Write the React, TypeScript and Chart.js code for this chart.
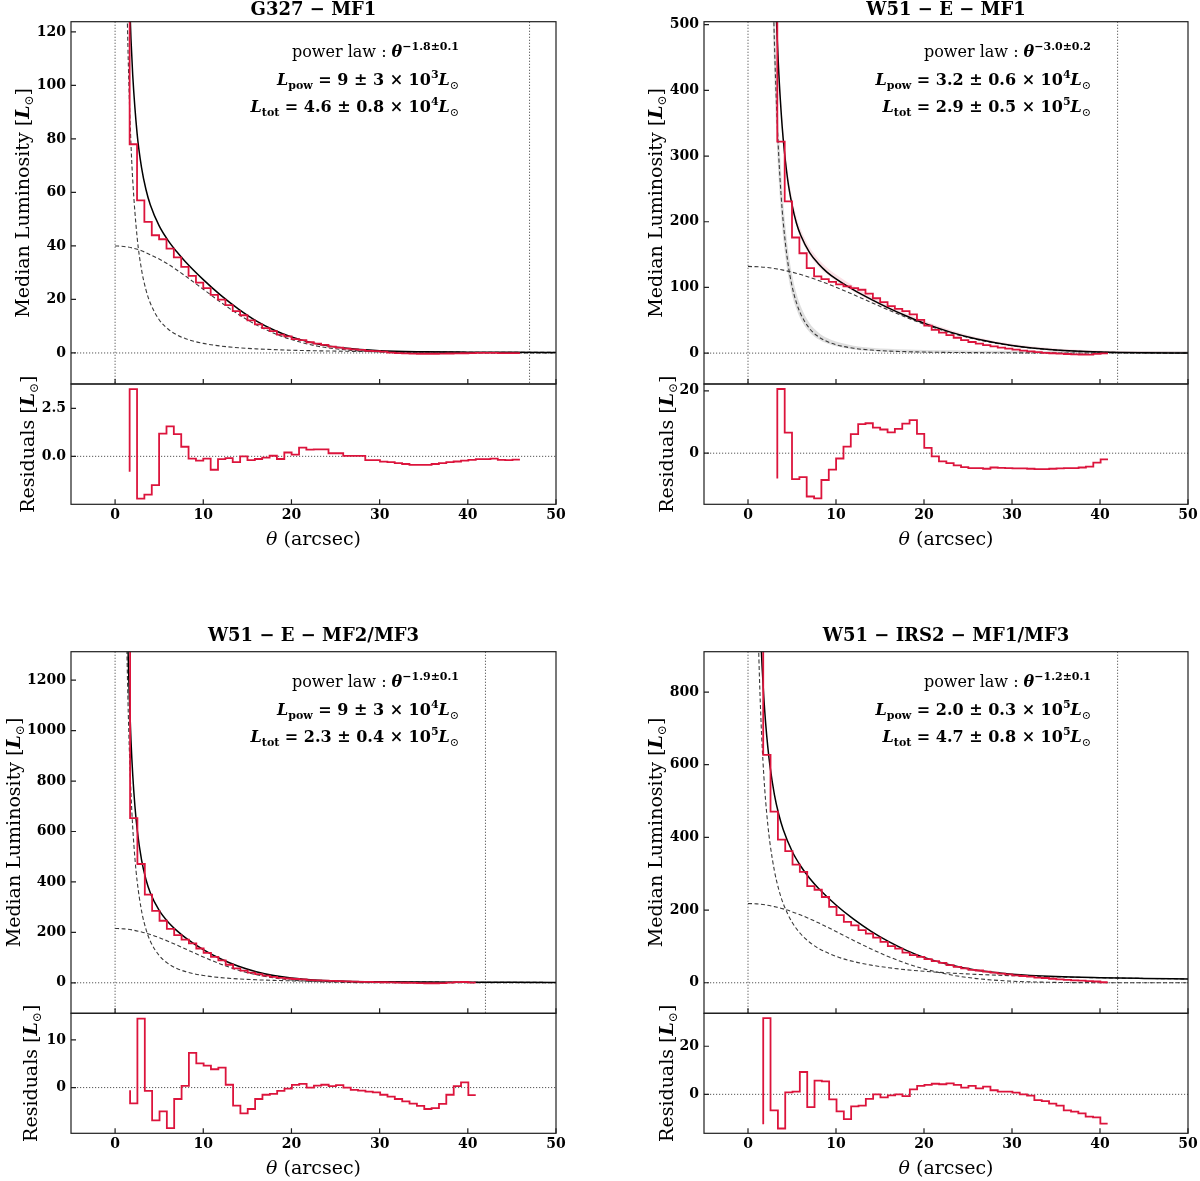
import React, { useEffect, useRef } from 'react';
import { Chart, registerables } from 'chart.js';

Chart.register(...registerables);

const SERIF = '"DejaVu Serif", "Liberation Serif", serif';
const RED = '#dc143c';

// ---------- shared axis data ----------
const X_MIN = -5;
const X_MAX = 50;
const X_TICKS = [0, 10, 20, 30, 40, 50];
const X_TICK_LABELS = ['0', '10', '20', '30', '40', '50'];

// ---------- Panel 1 : G327 - MF1 ----------
const p1Title = 'G327 − MF1';
const p1Edges = [1.65, 2.49, 3.32, 4.16, 4.99, 5.83, 6.66, 7.50, 8.33, 9.17, 10.00, 10.84, 11.67, 12.51, 13.34, 14.18, 15.01, 15.85, 16.68, 17.52, 18.35, 19.19, 20.02, 20.86, 21.69, 22.53, 23.36, 24.20, 25.03, 25.87, 26.70, 27.54, 28.37, 29.21, 30.04, 30.88, 31.71, 32.55, 33.38, 34.22, 35.05, 35.89, 36.72, 37.56, 38.39, 39.23, 40.06, 40.90, 41.73, 42.57, 43.40, 44.24, 45.07, 45.91];
const p1Lum = [200, 78, 57, 49, 44, 42.5, 39, 35.7, 32.2, 28.8, 26.3, 24.2, 21.7, 19.95, 17.9, 15.6, 14.1, 12.2, 10.7, 9.3, 8.16, 6.84, 6.18, 5.19, 4.78, 4.01, 3.47, 2.99, 2.38, 2.03, 1.62, 1.37, 1.18, 0.8, 0.66, 0.48, 0.1, -0.05, -0.15, -0.25, -0.3, -0.3, -0.3, -0.25, -0.2, -0.15, -0.1, -0.05, 0, 0, 0, -0.05, -0.05, -0.05];
const p1Res = [-0.8, 3.5, -2.2, -2.0, -1.5, 1.18, 1.56, 1.16, 0.5, -0.12, -0.22, -0.12, -0.7, -0.15, -0.09, -0.3, 0.0, -0.2, -0.14, -0.07, 0.03, -0.14, 0.2, 0.09, 0.45, 0.35, 0.36, 0.36, 0.16, 0.16, 0.02, 0.02, 0.02, -0.2, -0.2, -0.28, -0.3, -0.35, -0.4, -0.45, -0.45, -0.45, -0.4, -0.35, -0.3, -0.27, -0.22, -0.18, -0.15, -0.15, -0.12, -0.18, -0.2, -0.17];
const p1CurveX = [1.2, 1.4, 1.6, 1.8, 2.0, 2.5, 3, 3.5, 4, 5, 6, 7, 8, 10, 12, 14, 16, 18, 20, 23, 26, 30, 35, 40, 45, 50];
const p1Pow = [162, 122.8, 96.6, 78.1, 64.6, 43.2, 31.1, 23.6, 18.6, 12.4, 8.94, 6.78, 5.33, 3.57, 2.57, 1.95, 1.53, 1.24, 1.02, 0.8, 0.64, 0.49, 0.37, 0.29, 0.24, 0.2];
const p1Tot = [201.7, 162.4, 136.1, 117.4, 103.8, 81.9, 69.3, 61.1, 55.3, 47.5, 42.1, 37.8, 34.0, 27.4, 21.5, 16.4, 12.0, 8.6, 6.0, 3.3, 1.84, 0.86, 0.44, 0.3, 0.24, 0.2];
const p1GaussX = [0, 1, 2, 3, 4, 5, 6, 7, 8, 10, 12, 14, 16, 18, 20, 23, 26, 30, 35, 40, 50];
const p1Gauss = [40, 39.8, 39.2, 38.2, 36.7, 35.1, 33.2, 31.0, 28.7, 23.8, 18.9, 14.4, 10.5, 7.4, 5.0, 2.5, 1.2, 0.37, 0.07, 0.01, 0];
const p1YRange = [-11.6, 123.8];
const p1YTicks = [0, 20, 40, 60, 80, 100, 120];
const p1YLabels = ['0', '20', '40', '60', '80', '100', '120'];
const p1ResRange = [-2.5, 3.77];
const p1ResTicks = [0, 2.5];
const p1ResLabels = ['0.0', '2.5'];
const p1VLines = [0, 47];
const p1Ann = ['−1.8±0.1', '9 ± 3', '3', '4.6 ± 0.8', '4'];

// ---------- Panel 2 : W51 - E - MF1 ----------
const p2Title = 'W51 − E − MF1';
const p2Edges = [3.33, 4.17, 5.00, 5.84, 6.67, 7.51, 8.34, 9.18, 10.01, 10.85, 11.68, 12.52, 13.35, 14.19, 15.02, 15.86, 16.69, 17.53, 18.36, 19.20, 20.03, 20.87, 21.70, 22.54, 23.37, 24.21, 25.04, 25.88, 26.71, 27.55, 28.38, 29.22, 30.05, 30.89, 31.72, 32.56, 33.39, 34.23, 35.06, 35.90, 36.73, 37.57, 38.40, 39.24, 40.07, 40.91];
const p2Lum = [700, 322, 231, 176, 152, 129.5, 116.7, 112.7, 108.5, 104.5, 101.5, 99, 96.5, 90.5, 83.5, 77.5, 71.5, 67.5, 63.9, 59, 50.5, 42, 35.5, 31.3, 27.3, 23.4, 19.9, 16.9, 14.5, 12.1, 10.4, 8.5, 6.8, 5.2, 3.9, 2.6, 1.4, 0.5, -0.2, -0.8, -1.3, -1.8, -2.1, -2.2, -1.2, -0.5];
const p2Res = [-8.1, 20.6, 6.6, -8.3, -7.7, -13.9, -14.5, -8.6, -5.3, -1.7, 2.1, 6.1, 9.3, 9.6, 8.2, 7.6, 6.7, 7.8, 9.5, 10.6, 6.2, 1.7, -1.0, -2.6, -3.2, -3.9, -4.5, -4.8, -4.8, -5.0, -4.6, -4.7, -4.8, -4.9, -4.9, -5.0, -5.1, -5.1, -5.0, -4.9, -4.8, -4.8, -4.6, -4.3, -3.0, -2.0];
const p2CurveX = [2.8, 3.0, 3.25, 3.5, 3.75, 4, 4.5, 5, 5.5, 6, 7, 8, 9, 10, 12, 14, 16, 18, 20, 23, 26, 30, 35, 40, 45, 50];
const p2Pow = [583, 474, 372.9, 298.5, 242.7, 200, 140.5, 102.4, 76.9, 59.3, 37.3, 25, 17.6, 12.8, 7.4, 4.66, 3.1, 2.2, 1.6, 1.05, 0.73, 0.47, 0.3, 0.2, 0.14, 0.1];
const p2Tot = [712, 603, 501, 426, 370, 326, 265, 226, 198, 179, 153, 136, 123, 113, 96.3, 81.8, 68.5, 56.5, 45.6, 32, 21.4, 11.7, 4.9, 1.84, 0.65, 0.24];
const p2PowHi = [668, 543, 428, 343, 280, 231, 163, 120, 91, 71, 45.5, 31.5, 23, 17.6, 11.4, 8.3, 6.5, 5.5, 4.8, 4.2, 3.8, 3.5, 3.3, 3.2, 3.2, 3.1];
const p2PowLo = [512, 416, 327, 262, 213, 175, 123, 89, 67, 51, 31.8, 21, 14.5, 10.3, 5.5, 3.1, 1.7, 0.9, 0.4, 0, 0, 0, 0, 0, 0, 0];
const p2TotHi = [742.5, 629, 523, 445, 387, 341, 278, 237, 208, 188, 161, 143.4, 130, 119.5, 102, 87, 73.2, 60.8, 49.4, 35.3, 24.3, 14.2, 7.1, 3.9, 2.7, 2.2];
const p2TotLo = [697, 590, 490, 416, 362, 318, 259, 220, 193, 174, 149, 132, 119.5, 109.7, 93.4, 79.2, 66.1, 54.4, 43.7, 30.4, 20, 10.5, 3.8, 0.8, 0, 0];
const p2GaussX = [0, 2, 4, 6, 8, 10, 12, 14, 16, 18, 20, 23, 26, 30, 35, 40, 45, 50];
const p2Gauss = [132, 130.6, 126.3, 119.6, 110.7, 100.4, 88.9, 77.1, 65.4, 54.3, 44.0, 30.9, 20.7, 11.2, 4.58, 1.64, 0.51, 0.14];
const p2YRange = [-47, 504.5];
const p2YTicks = [0, 100, 200, 300, 400, 500];
const p2YLabels = ['0', '100', '200', '300', '400', '500'];
const p2ResRange = [-16.4, 22.2];
const p2ResTicks = [0, 20];
const p2ResLabels = ['0', '20'];
const p2VLines = [0, 42];
const p2Ann = ['−3.0±0.2', '3.2 ± 0.6', '4', '2.9 ± 0.5', '5'];

// ---------- Panel 3 : W51 - E - MF2/MF3 ----------
const p3Title = 'W51 − E − MF2/MF3';
const p3Edges = [1.70, 2.53, 3.37, 4.20, 5.04, 5.87, 6.70, 7.54, 8.37, 9.21, 10.04, 10.87, 11.71, 12.54, 13.38, 14.21, 15.04, 15.88, 16.71, 17.55, 18.38, 19.21, 20.05, 20.88, 21.72, 22.55, 23.38, 24.22, 25.05, 25.89, 26.72, 27.55, 28.39, 29.22, 30.06, 30.89, 31.72, 32.56, 33.39, 34.23, 35.06, 35.89, 36.73, 37.56, 38.40, 39.23, 40.06, 40.90];
const p3Lum = [1500, 653, 471, 350, 285, 246, 214, 189, 171, 156, 136, 119, 103, 88.5, 71.5, 57.5, 48, 40.3, 34.2, 28.6, 23.6, 19.7, 17, 15, 13.2, 10.6, 9.5, 8.4, 7.2, 6.5, 5.4, 4.5, 3.9, 3.3, 2.8, 2.1, 1.45, 0.74, 0.08, -0.52, -1.2, -1.9, -1.85, -1.05, 0.75, 2.46, 3.18, 0.4];
const p3Res = [-0.55, -3.3, 14.5, -0.7, -6.9, -5.0, -8.5, -2.4, 0.35, 7.3, 5.1, 4.6, 3.85, 4.2, 0.6, -3.8, -5.4, -4.5, -2.4, -1.5, -1.3, -0.7, -0.2, 0.55, 0.8, 0.0, 0.4, 0.6, 0.3, 0.5, 0.0, -0.5, -0.65, -0.85, -1.0, -1.5, -1.9, -2.4, -2.9, -3.35, -3.85, -4.5, -4.3, -3.4, -1.5, 0.3, 1.1, -1.6];
const p3CurveX = [1.3, 1.4, 1.5, 1.6, 1.8, 2.0, 2.25, 2.5, 3, 3.5, 4, 5, 6, 7, 8, 10, 12, 14, 16, 18, 20, 23, 26, 30, 35, 40, 45, 50];
const p3Pow = [1397, 1214, 1064, 942, 753, 616, 492.7, 403.3, 285.3, 212.8, 165.1, 108.1, 76.4, 57.0, 44.2, 29.0, 20.5, 15.3, 11.9, 9.48, 7.76, 5.95, 4.71, 3.59, 2.68, 2.08, 1.66, 1.36];
const p3Tot = [1610, 1426, 1276, 1153, 963, 825, 700, 609, 487, 409.5, 356.4, 287.1, 241.3, 206.9, 178.2, 131.4, 94.4, 65.4, 44.0, 28.8, 18.8, 10.2, 6.1, 3.9, 2.7, 2.1, 1.7, 1.4];
const p3GaussX = [0, 1, 2, 3, 4, 5, 6, 7, 8, 10, 12, 14, 16, 18, 20, 23, 26, 30, 35, 40, 50];
const p3Gauss = [215.5, 213.9, 209.2, 201.6, 191.3, 179.0, 164.9, 149.9, 134.0, 102.4, 73.9, 50.1, 32.1, 19.3, 11.0, 4.22, 1.41, 0.27, 0.02, 0, 0];
const p3YRange = [-121, 1313];
const p3YTicks = [0, 200, 400, 600, 800, 1000, 1200];
const p3YLabels = ['0', '200', '400', '600', '800', '1000', '1200'];
const p3ResRange = [-9.6, 15.6];
const p3ResTicks = [0, 10];
const p3ResLabels = ['0', '10'];
const p3VLines = [0, 42];
const p3Ann = ['−1.9±0.1', '9 ± 3', '4', '2.3 ± 0.4', '5'];

// ---------- Panel 4 : W51 - IRS2 - MF1/MF3 ----------
const p4Title = 'W51 − IRS2 − MF1/MF3';
const p4Edges = [1.73, 2.56, 3.40, 4.23, 5.06, 5.89, 6.73, 7.56, 8.39, 9.22, 10.06, 10.89, 11.72, 12.56, 13.39, 14.22, 15.05, 15.89, 16.72, 17.55, 18.39, 19.22, 20.05, 20.88, 21.72, 22.55, 23.38, 24.22, 25.05, 25.88, 26.71, 27.55, 28.38, 29.21, 30.05, 30.88, 31.71, 32.54, 33.38, 34.21, 35.04, 35.88, 36.71, 37.54, 38.37, 39.21, 40.04, 40.87];
const p4Lum = [1000, 627, 471, 394, 362, 325, 305, 266, 256, 236, 209, 186, 167.5, 158, 145, 135, 124, 112.6, 100.7, 94, 83, 76, 71, 65, 59.5, 55, 48.5, 44, 39.4, 35.7, 33.8, 30.8, 27.8, 25.3, 22.9, 20.5, 18.7, 17, 14.2, 13.1, 11.1, 9.5, 7.8, 6.8, 5.8, 4.4, 3.5, 1.5];
const p4Res = [-12.4, 31.7, -6.7, -14.2, 0.8, 1.1, 9.3, -5.3, 5.7, 5.4, -2.1, -7.1, -10.3, -5.0, -4.7, -1.9, 0, -1.25, -0.4, 0, -0.7, 2.1, 3.5, 3.9, 4.4, 4.2, 4.6, 3.9, 2.8, 3.5, 2.5, 3.2, 1.7, 1.1, 1.1, 0.7, 0, -0.5, -2.4, -2.8, -3.9, -4.7, -6.7, -7.2, -7.9, -9.3, -9.6, -12.2];
const p4CurveX = [1.2, 1.3, 1.4, 1.5, 1.6, 1.8, 2.0, 2.25, 2.5, 3, 3.5, 4, 5, 6, 7, 8, 10, 12, 14, 16, 18, 20, 23, 26, 30, 35, 40, 45, 50];
const p4Pow = [925.6, 840.9, 769.3, 708.2, 655.4, 569, 501.4, 435.4, 383.6, 308.3, 256.2, 218.3, 167.0, 134.2, 111.5, 95.0, 72.7, 58.4, 48.5, 41.35, 35.9, 31.6, 26.75, 23.1, 19.45, 16.17, 13.77, 11.96, 10.54];
const p4Tot = [1142, 1057, 985, 924, 871, 784, 716, 649, 596, 518, 463, 422, 362.5, 320.6, 287.6, 260, 213.9, 174.9, 141.4, 113, 89.2, 69.9, 48.7, 34.6, 23.8, 17.2, 14.0, 12.0, 10.5];
const p4GaussX = [0, 1, 2, 3, 4, 5, 6, 7, 8, 10, 12, 14, 16, 18, 20, 23, 26, 30, 35, 40, 45, 50];
const p4Gauss = [218, 217.1, 214.2, 209.6, 203.3, 195.5, 186.4, 176.1, 165.0, 141.2, 116.5, 92.9, 71.6, 53.3, 38.3, 21.9, 11.5, 4.36, 1.06, 0.21, 0.03, 0];
const p4YRange = [-84, 911];
const p4YTicks = [0, 200, 400, 600, 800];
const p4YLabels = ['0', '200', '400', '600', '800'];
const p4ResRange = [-16.2, 33.7];
const p4ResTicks = [0, 20];
const p4ResLabels = ['0', '20'];
const p4VLines = [0, 42];
const p4Ann = ['−1.2±0.1', '2.0 ± 0.3', '5', '4.7 ± 0.8', '5'];

// ---------- assembled panel definitions ----------
type Panel = {
  title: string; edges: number[]; lum: number[]; res: number[];
  curveX: number[]; pow: number[]; tot: number[]; gaussX: number[]; gauss: number[];
  band?: { powHi: number[]; powLo: number[]; totHi: number[]; totLo: number[] };
  yRange: number[]; yTicks: number[]; yLabels: string[];
  resRange: number[]; resTicks: number[]; resLabels: string[];
  vlines: number[]; ann: string[]; labX: number[];
};

const PANELS: Panel[] = [
  { title: p1Title, edges: p1Edges, lum: p1Lum, res: p1Res, curveX: p1CurveX, pow: p1Pow, tot: p1Tot, gaussX: p1GaussX, gauss: p1Gauss, yRange: p1YRange, yTicks: p1YTicks, yLabels: p1YLabels, resRange: p1ResRange, resTicks: p1ResTicks, resLabels: p1ResLabels, vlines: p1VLines, ann: p1Ann, labX: [22, 27] },
  { title: p2Title, edges: p2Edges, lum: p2Lum, res: p2Res, curveX: p2CurveX, pow: p2Pow, tot: p2Tot, gaussX: p2GaussX, gauss: p2Gauss, band: { powHi: p2PowHi, powLo: p2PowLo, totHi: p2TotHi, totLo: p2TotLo }, yRange: p2YRange, yTicks: p2YTicks, yLabels: p2YLabels, resRange: p2ResRange, resTicks: p2ResTicks, resLabels: p2ResLabels, vlines: p2VLines, ann: p2Ann, labX: [55, 66] },
  { title: p3Title, edges: p3Edges, lum: p3Lum, res: p3Res, curveX: p3CurveX, pow: p3Pow, tot: p3Tot, gaussX: p3GaussX, gauss: p3Gauss, yRange: p3YRange, yTicks: p3YTicks, yLabels: p3YLabels, resRange: p3ResRange, resTicks: p3ResTicks, resLabels: p3ResLabels, vlines: p3VLines, ann: p3Ann, labX: [13, 30] },
  { title: p4Title, edges: p4Edges, lum: p4Lum, res: p4Res, curveX: p4CurveX, pow: p4Pow, tot: p4Tot, gaussX: p4GaussX, gauss: p4Gauss, yRange: p4YRange, yTicks: p4YTicks, yLabels: p4YLabels, resRange: p4ResRange, resTicks: p4ResTicks, resLabels: p4ResLabels, vlines: p4VLines, ann: p4Ann, labX: [55, 66] },
];

// ---------- layout ----------
const COL = [
  { x0: 0, yAxisW: 71, padR: 44 },
  { x0: 600, yAxisW: 104, padR: 12 },
];
const ROW = [
  { mainTop: 0, mainH: 386, titlePadT: 0, titlePadB: 0.1, mainPadB: 2, resTop: 352, resH: 208, resPadT: 32, resXH: 55.7 },
  { mainTop: 620, mainH: 395, titlePadT: 5.9, titlePadB: 4.2, mainPadB: 1.7, resTop: 981, resH: 200, resPadT: 32.3, resXH: 47.7 },
];

// ---------- drawing helpers ----------
type Seg = { t: string; f: string; dy?: number };
const fnt = (size: number, style = '', weight = '') => `${style} ${weight} ${size}px ${SERIF}`.trim();

function drawRich(ctx: CanvasRenderingContext2D, segs: Seg[], x: number, y: number, align: 'left' | 'right' | 'center') {
  let w = 0;
  for (const s of segs) { ctx.font = s.f; w += ctx.measureText(s.t).width; }
  let cx = align === 'right' ? x - w : align === 'center' ? x - w / 2 : x;
  ctx.textAlign = 'left';
  ctx.textBaseline = 'alphabetic';
  for (const s of segs) {
    ctx.font = s.f;
    ctx.fillText(s.t, cx, y + (s.dy || 0));
    cx += ctx.measureText(s.t).width;
  }
}

function refLines(chart: any, vlines: number[]) {
  const { ctx, chartArea: a, scales } = chart;
  ctx.save();
  ctx.beginPath();
  ctx.rect(a.left, a.top, a.right - a.left, a.bottom - a.top);
  ctx.clip();
  ctx.strokeStyle = '#444';
  ctx.lineWidth = 0.9;
  ctx.setLineDash([1.2, 1.8]);
  ctx.beginPath();
  const y0 = scales.y.getPixelForValue(0);
  ctx.moveTo(a.left, y0);
  ctx.lineTo(a.right, y0);
  for (const v of vlines) {
    const px = scales.x.getPixelForValue(v);
    ctx.moveTo(px, a.top);
    ctx.lineTo(px, a.bottom);
  }
  ctx.stroke();
  ctx.restore();
}

function frameAndTicks(chart: any, yTicks: number[]) {
  const { ctx, chartArea: a, scales } = chart;
  ctx.save();
  ctx.setLineDash([]);
  ctx.strokeStyle = '#1e1e1e';
  ctx.lineWidth = 1.2;
  ctx.strokeRect(a.left, a.top, a.right - a.left, a.bottom - a.top);
  ctx.beginPath();
  for (const v of X_TICKS) {
    const px = scales.x.getPixelForValue(v);
    ctx.moveTo(px, a.bottom);
    ctx.lineTo(px, a.bottom - 5);
  }
  for (const v of yTicks) {
    const py = scales.y.getPixelForValue(v);
    ctx.moveTo(a.left, py);
    ctx.lineTo(a.left + 5, py);
  }
  ctx.stroke();
  ctx.restore();
}

function yTitle(ctx: CanvasRenderingContext2D, word: string, cx: number, cy: number) {
  ctx.save();
  ctx.fillStyle = '#000';
  ctx.translate(cx, cy);
  ctx.rotate(-Math.PI / 2);
  drawRich(ctx, [
    { t: word + ' [', f: fnt(19) },
    { t: 'L', f: fnt(19, 'italic', 'bold') },
    { t: '⊙', f: fnt(12), dy: 4 },
    { t: ']', f: fnt(19) },
  ], 0, 6.6, 'center');
  ctx.restore();
}

const pts = (xs: number[], ys: number[]) => xs.map((x, i) => ({ x, y: ys[i] }));

const dashed = { borderColor: '#3a3a3a', borderWidth: 1.1, borderDash: [4, 2.5], cubicInterpolationMode: 'monotone', order: 2 };
const clear = 'rgba(0,0,0,0)';
const TICK_FONT = { family: SERIF, size: 14, weight: 'bold' };

function yScale(range: number[], ticks: number[], labels: string[], width: number) {
  return {
    type: 'linear', position: 'left', min: range[0], max: range[1],
    grid: { display: false, drawTicks: false }, border: { display: false },
    ticks: {
      color: '#000', padding: 5, font: TICK_FONT,
      callback: (v: number) => { const i = ticks.indexOf(v); return i >= 0 ? labels[i] : ''; },
    },
    afterBuildTicks: (s: any) => { s.ticks = ticks.map((v) => ({ value: v })); },
    afterFit: (s: any) => { s.width = width; s.paddingTop = 0; s.paddingBottom = 0; },
  };
}

function buildMain(p: Panel, row: number, col: number) {
  const R = ROW[row], C = COL[col];
  const datasets: any[] = [
    { data: pts(p.edges, p.lum), borderColor: RED, borderWidth: 1.8, stepped: 'after', order: 0 },
    { data: pts(p.curveX, p.tot), borderColor: '#000', borderWidth: 1.5, cubicInterpolationMode: 'monotone', order: 1 },
    { data: pts(p.curveX, p.pow), ...dashed },
    { data: pts(p.gaussX, p.gauss), ...dashed },
  ];
  if (p.band) {
    datasets.push(
      { data: pts(p.curveX, p.band.powHi), borderColor: clear, borderWidth: 0, backgroundColor: 'rgba(150,150,150,0.30)', fill: '+1', cubicInterpolationMode: 'monotone', order: 3 },
      { data: pts(p.curveX, p.band.powLo), borderColor: clear, borderWidth: 0, fill: false, cubicInterpolationMode: 'monotone', order: 3 },
      { data: pts(p.curveX, p.band.totHi), borderColor: clear, borderWidth: 0, backgroundColor: 'rgba(220,20,60,0.13)', fill: '+1', cubicInterpolationMode: 'monotone', order: 3 },
      { data: pts(p.curveX, p.band.totLo), borderColor: clear, borderWidth: 0, fill: false, cubicInterpolationMode: 'monotone', order: 3 },
    );
  }
  const deco = {
    id: 'mainDeco' + row + col,
    beforeDatasetsDraw(chart: any) { refLines(chart, p.vlines); },
    afterDraw(chart: any) {
      const { ctx, chartArea: a } = chart;
      frameAndTicks(chart, p.yTicks);
      ctx.save();
      ctx.fillStyle = '#000';
      const rx = a.right - 97;
      drawRich(ctx, [
        { t: 'power law : ', f: fnt(16) },
        { t: 'θ', f: fnt(16, 'italic', 'bold') },
        { t: p.ann[0], f: fnt(11, '', 'bold'), dy: -7 },
      ], rx, a.top + 35, 'right');
      drawRich(ctx, [
        { t: 'L', f: fnt(16, 'italic', 'bold') },
        { t: 'pow', f: fnt(11, '', 'bold'), dy: 4 },
        { t: ' = ' + p.ann[1] + ' × 10', f: fnt(16, '', 'bold') },
        { t: p.ann[2], f: fnt(11, '', 'bold'), dy: -7 },
        { t: 'L', f: fnt(16, 'italic', 'bold') },
        { t: '⊙', f: fnt(11), dy: 4 },
      ], rx, a.top + 63.3, 'right');
      drawRich(ctx, [
        { t: 'L', f: fnt(16, 'italic', 'bold') },
        { t: 'tot', f: fnt(11, '', 'bold'), dy: 4 },
        { t: ' = ' + p.ann[3] + ' × 10', f: fnt(16, '', 'bold') },
        { t: p.ann[4], f: fnt(11, '', 'bold'), dy: -7 },
        { t: 'L', f: fnt(16, 'italic', 'bold') },
        { t: '⊙', f: fnt(11), dy: 4 },
      ], rx, a.top + 90.3, 'right');
      ctx.restore();
      yTitle(ctx, 'Median Luminosity', p.labX[0], (a.top + a.bottom) / 2);
    },
  };
  return {
    type: 'line',
    data: { datasets },
    options: {
      animation: false, responsive: false, maintainAspectRatio: false, events: [],
      layout: { padding: { top: 0, left: 0, right: C.padR, bottom: R.mainPadB } },
      elements: { point: { radius: 0, hitRadius: 0 }, line: { fill: false } },
      plugins: {
        legend: { display: false }, tooltip: { enabled: false },
        title: {
          display: true, text: p.title, fullSize: false, color: '#000',
          font: { family: SERIF, size: 18, weight: 'bold', lineHeight: 1.2 },
          padding: { top: R.titlePadT, bottom: R.titlePadB },
        },
      },
      scales: {
        x: { type: 'linear', min: X_MIN, max: X_MAX, display: false },
        y: yScale(p.yRange, p.yTicks, p.yLabels, C.yAxisW),
      },
    },
    plugins: [deco],
  };
}

function buildRes(p: Panel, row: number, col: number) {
  const R = ROW[row], C = COL[col];
  const deco = {
    id: 'resDeco' + row + col,
    beforeDatasetsDraw(chart: any) { refLines(chart, []); },
    afterDraw(chart: any) {
      const { ctx, chartArea: a } = chart;
      frameAndTicks(chart, p.resTicks);
      yTitle(ctx, 'Residuals', p.labX[1], (a.top + a.bottom) / 2);
      ctx.save();
      ctx.fillStyle = '#000';
      drawRich(ctx, [
        { t: 'θ', f: fnt(19, 'italic') },
        { t: ' (arcsec)', f: fnt(19) },
      ], (a.left + a.right) / 2, a.bottom + 40.3, 'center');
      ctx.restore();
    },
  };
  return {
    type: 'line',
    data: { datasets: [{ data: pts(p.edges, p.res), borderColor: RED, borderWidth: 1.8, stepped: 'after' }] },
    options: {
      animation: false, responsive: false, maintainAspectRatio: false, events: [],
      layout: { padding: { top: R.resPadT, left: 0, right: C.padR, bottom: 0 } },
      elements: { point: { radius: 0, hitRadius: 0 }, line: { fill: false } },
      plugins: { legend: { display: false }, tooltip: { enabled: false }, title: { display: false } },
      scales: {
        x: {
          type: 'linear', min: X_MIN, max: X_MAX,
          grid: { display: false, drawTicks: false }, border: { display: false },
          ticks: {
            color: '#000', padding: 2.5, maxRotation: 0, autoSkip: false,
            font: TICK_FONT,
            callback: (v: number) => { const i = X_TICKS.indexOf(v); return i >= 0 ? X_TICK_LABELS[i] : ''; },
          },
          afterBuildTicks: (s: any) => { s.ticks = X_TICKS.map((v) => ({ value: v })); },
          afterFit: (s: any) => { s.height = R.resXH; s.paddingLeft = 0; s.paddingRight = 0; },
        },
        y: yScale(p.resRange, p.resTicks, p.resLabels, C.yAxisW),
      },
    },
    plugins: [deco],
  };
}

function ChartCanvas({ make, left, top, width, height }: { make: () => any; left: number; top: number; width: number; height: number }) {
  const ref = useRef<HTMLCanvasElement>(null);
  useEffect(() => {
    const chart = new Chart(ref.current as HTMLCanvasElement, make());
    return () => chart.destroy();
  }, []);
  return (
    <canvas ref={ref} width={width} height={height}
      style={{ position: 'absolute', left, top, width, height, display: 'block' }} />
  );
}

export default function App() {
  return (
    <div style={{ position: 'absolute', left: 0, top: 0, width: 1200, height: 1181, background: '#fff', overflow: 'hidden' }}>
      {PANELS.map((p, i) => {
        const row = Math.floor(i / 2);
        const col = i % 2;
        return (
          <React.Fragment key={i}>
            <ChartCanvas make={() => buildMain(p, row, col)} left={COL[col].x0} top={ROW[row].mainTop} width={600} height={ROW[row].mainH} />
            <ChartCanvas make={() => buildRes(p, row, col)} left={COL[col].x0} top={ROW[row].resTop} width={600} height={ROW[row].resH} />
          </React.Fragment>
        );
      })}
    </div>
  );
}
